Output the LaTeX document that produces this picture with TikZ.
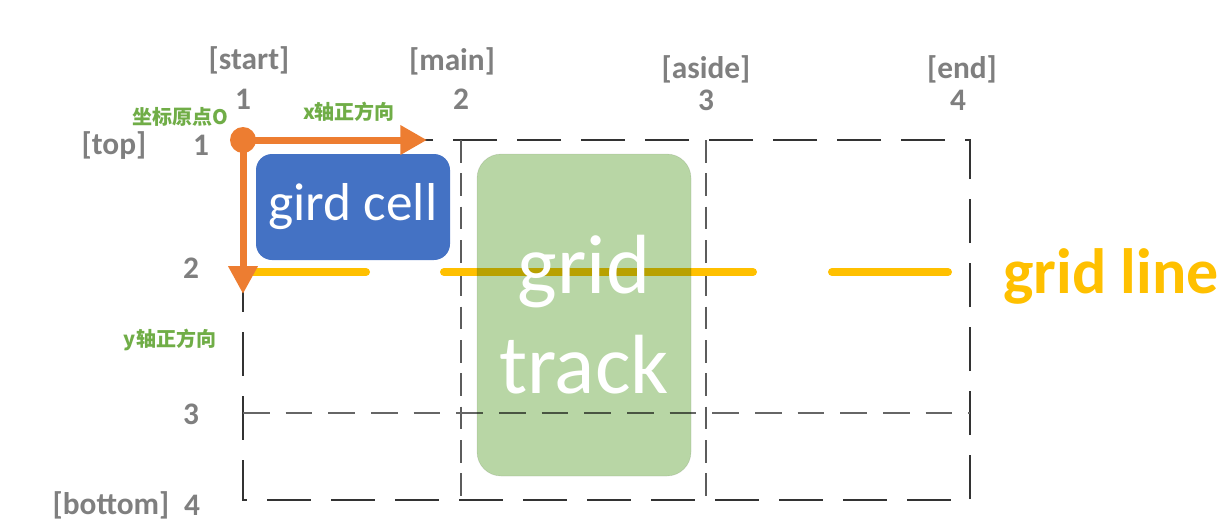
\documentclass[tikz,border=0pt]{standalone}
\usepackage{fontspec}
\setmainfont{Carlito}
\newfontfamily\cjkfont{Noto Sans CJK SC}
\usetikzlibrary{arrows.meta}
\newcommand{\AxisArrowType}{Triangle}

\definecolor{lblgray}{HTML}{7F7F7F}
\definecolor{axisorange}{HTML}{ED7D31}
\definecolor{cellblue}{HTML}{4472C4}
\definecolor{trackgreen}{HTML}{B8D6A5}
\definecolor{lineyellow}{HTML}{FFC000}
\definecolor{notegreen}{HTML}{70AD47}
\definecolor{griddark}{HTML}{333333}

\tikzset{
	lbl/.style={text=lblgray, font=\bfseries\fontsize{23.5}{28}\selectfont, inner sep=0pt},
	note/.style={text=notegreen, font=\cjkfont\bfseries\fontsize{15}{18}\selectfont, inner sep=0pt},
	gridedge/.style={griddark, line width=1.5pt, dash pattern=on 33pt off 15pt},
	gridinner/.style={griddark!80, line width=1.2pt, dash pattern=on 17pt off 8pt},
	axis/.style={axisorange, line width=5.25pt}
}

\begin{document}
\begin{tikzpicture}[x=0.75pt,y=-0.75pt,>=\AxisArrowType]
				\useasboundingbox (0,0) rectangle (1231,522);

				% grid lines
				\draw[gridedge] (243,140) rectangle (970,500);
				\draw[gridinner] (461,140) -- (461,500);
				\draw[gridinner] (706,140) -- (706,500);
				\draw[griddark!75, line width=0.9pt, dash pattern=on 20pt off 12pt]
						(243,413) -- (970,413);

				% row line 2
				\coordinate (glA) at (249,272);
				\coordinate (glB) at (948,272);
				\draw[lineyellow, line width=6pt, line cap=round,
						dash pattern=on 87.75pt off 58.5pt on 231.75pt off 59.25pt on 87pt]
						(glA) -- (glB);
				\node[anchor=west, text=lineyellow, inner sep=0pt,
						font=\bfseries\fontsize{48}{56}\selectfont]
						(glLbl) at (1003,276) {grid line};

				% item and track
				\node[fill=cellblue, rounded corners=12pt, text=white,
						minimum width=145.5pt, minimum height=79.5pt, inner sep=0pt,
						font=\fontsize{40}{48}\selectfont]
						(cell) at (353,207) {gird cell};
				\node[fill=trackgreen, blend mode=multiply,
						draw=white!85!gray, line width=0.6pt, rounded corners=18pt,
						minimum width=160.5pt, minimum height=241.5pt, inner sep=0pt]
						(track) at (584,315) {};
				\node[text=white, align=center, inner sep=0pt,
						font=\fontsize{63}{75}\selectfont]
						(trackTxt) at (track.center) {grid\\track};

				% axes
				\node[circle, fill=axisorange, minimum size=19.5pt, inner sep=0pt]
						(origin) at (243,140) {};
				\coordinate (xTip) at (427,140);
				\coordinate (yTip) at (243,294);
				\draw[axis, -{>[length=20pt, width=21pt]}] (origin.center) -- (xTip);
				\draw[axis, -{>[length=21pt, width=21pt]}] (origin.center) -- (yTip);

				\node[note] (originLbl) at (180,117) {坐标原点O};
				\node[note] (xLbl) at (349,112) {x轴正方向};
				\node[note] (yLbl) at (170,340) {y轴正方向};

				% column names
				\node[lbl] (colStart) at (249,60) {[start]};
				\node[lbl] (colOne) at (243,99) {1};
				\node[lbl] (colMain) at (452,61) {[main]};
				\node[lbl] (colTwo) at (461,99) {2};
				\node[lbl] (colAside) at (706,69) {[aside]};
				\node[lbl] (colThree) at (706,100) {3};
				\node[lbl] (colEnd) at (962,69) {[end]};
				\node[lbl] (colFour) at (958,100) {4};

				% row names
				\node[lbl] (rowTop) at (114,146) {[top]};
				\node[lbl] (rowOne) at (201,145) {1};
				\node[lbl] (rowTwo) at (191,268) {2};
				\node[lbl] (rowThree) at (191,414) {3};
				\node[lbl] (rowBottom) at (111,505) {[bottom]};
				\node[lbl] (rowFour) at (192,505) {4};
			\end{tikzpicture}
\end{document}
